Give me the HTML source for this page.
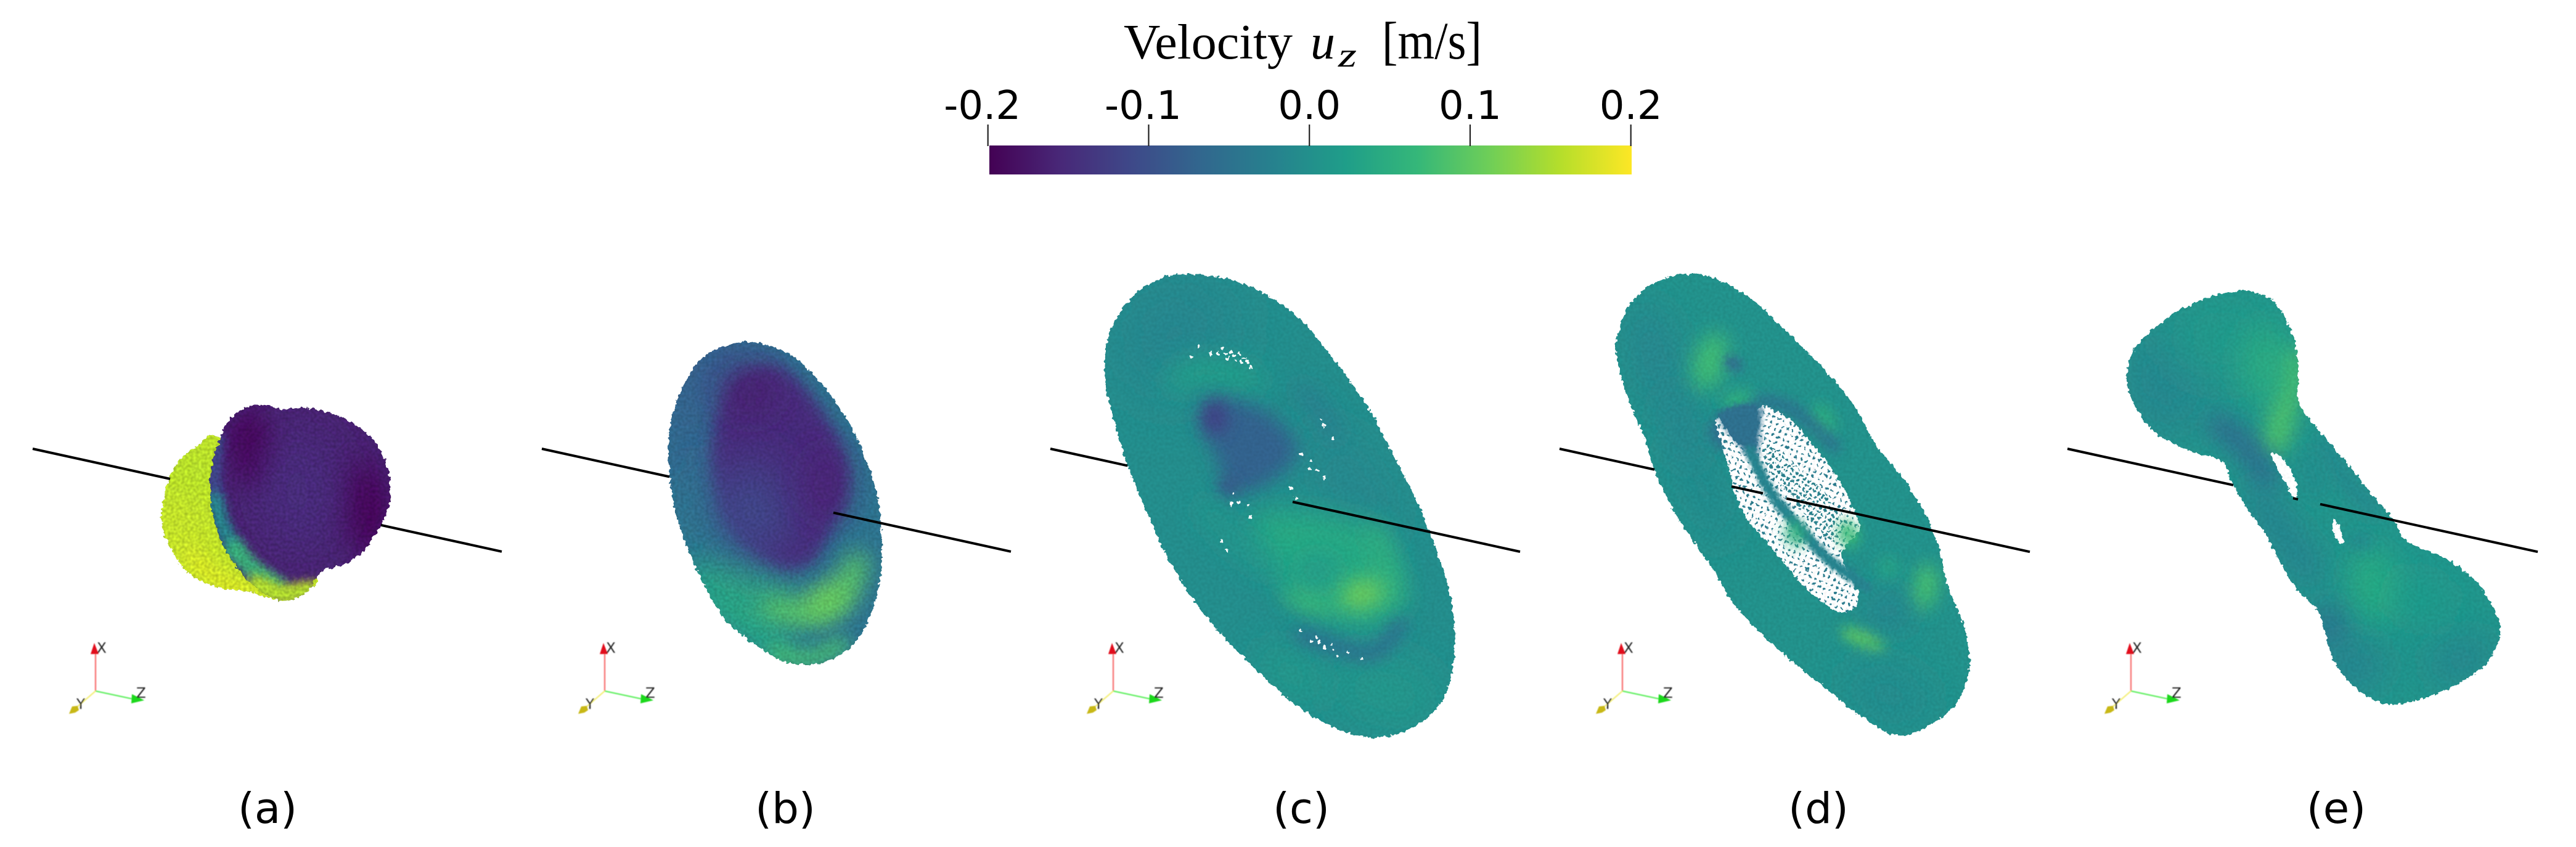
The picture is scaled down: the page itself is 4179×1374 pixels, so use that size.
<!DOCTYPE html>
<html lang="en">
<head>
<meta charset="utf-8">
<title>Velocity field panels</title>
<style>
html,body{margin:0;padding:0;background:#fff;width:4179px;height:1374px;overflow:hidden}
svg{display:block}
</style>
</head>
<body>
<svg id="figure" xmlns="http://www.w3.org/2000/svg" width="4179" height="1374" viewBox="0 0 4179 1374">
<defs id="defs">
<linearGradient id="cbGrad" x1="0" x2="1" y1="0" y2="0"></linearGradient>
<filter id="soft" x="-20%" y="-20%" width="140%" height="140%"><feGaussianBlur stdDeviation="0.9"/></filter>
<pattern id="dotsWide" width="9.5" height="9.5" patternUnits="userSpaceOnUse" patternTransform="rotate(22)"><rect width="9.5" height="9.5" fill="#fff"/><circle cx="4.75" cy="4.75" r="2.1" fill="#2a7a8c"/></pattern>
<pattern id="dotsDense" width="8" height="8" patternUnits="userSpaceOnUse" patternTransform="rotate(35)"><rect width="8" height="8" fill="#fff"/><circle cx="4" cy="4" r="2.6" fill="#2a808c"/></pattern>
</defs>
<rect width="4179" height="1374" fill="#fff"/>

<g id="colorbar-title" fill="#000" font-family="'Liberation Serif',serif" font-size="80">
<text x="1823" y="95" textLength="274" lengthAdjust="spacingAndGlyphs">Velocity</text>
<text x="2126" y="95" font-style="italic" textLength="40" lengthAdjust="spacingAndGlyphs">u</text>
<text x="2171" y="108" font-size="56" font-style="italic" textLength="30" lengthAdjust="spacingAndGlyphs">z</text>
<text x="2242" y="95" font-size="86" textLength="162" lengthAdjust="spacingAndGlyphs">[m/s]</text>
</g>
<rect id="colorbar" x="1605" y="236" width="1042" height="47" fill="url(#cbGrad)"/>
<g id="colorbar-ticks"></g>
<g id="panels"></g>
</svg>

<script>
// ---- colorbar data ----
const colorbarTicks = [-0.2, -0.1, 0.0, 0.1, 0.2];
const colorbarTickLabels = ["-0.2", "-0.1", "0.0", "0.1", "0.2"];
const viridisStops = ["#440154","#482878","#3e4989","#31688e","#26828e","#1f9e89","#35b779","#6ece58","#b5de2b","#fde725"];

// ---- panel captions ----
const panelLabels = ["(a)", "(b)", "(c)", "(d)", "(e)"];

// ---- velocity u_z read for each region of each panel, in drawing order ----
const panelAYellowVelocity = [0.162, 0.155, 0.178, 0.165];
const panelABodyVelocity = [-0.17, -0.11, -0.005, 0.07, 0.155, -0.165, -0.2, -0.2, -0.15];
const panelBVelocity = [-0.05, -0.09, -0.08, -0.035, 0.03, 0.05, 0.08, 0.095, 0.11, -0.15, -0.11, -0.165, -0.16];
const panelCVelocity = [-0.005, -0.018, 0.012, 0.028, 0.015, -0.015, -0.075, -0.125, -0.11, -0.04, 0.04, 0.06, 0.115, 0.075, 0.005, -0.06, 0.015];
const panelDVelocity = [0.002, -0.018, -0.012, 0.075, 0.06, 0.055, 0.08, 0.105, -0.025, -0.07, -0.06, -0.012, -0.045, -0.018, -0.06];
const panelDIslandVelocity = [-0.055, -0.02, 0.05, 0.07, 0.035];
const panelEVelocity = [0.006, -0.02, 0.015, 0.085, 0.045, -0.06, -0.025, -0.015, -0.005, 0.045, -0.055, 0.02, -0.025, -0.025, -0.01];

// ---- axis functions ----
const vMin = -0.2, vMax = 0.2;
function xOfTick(v){ return 1602.7 + (v - vMin) / (vMax - vMin) * 1043; }
function hex2rgb(h){ return [parseInt(h.slice(1,3),16),parseInt(h.slice(3,5),16),parseInt(h.slice(5,7),16)]; }
function viridis(u){
  let t = Math.max(0, Math.min(1, (u - vMin) / (vMax - vMin))) * (viridisStops.length - 1);
  const i = Math.min(viridisStops.length - 2, Math.floor(t));
  const f = t - i, a = hex2rgb(viridisStops[i]), b = hex2rgb(viridisStops[i+1]);
  return "rgb(" + a.map((c,k)=>Math.round(c+(b[k]-c)*f)).join(",") + ")";
}

const NS = "http://www.w3.org/2000/svg";
function mk(tag, attrs, parent){
  const el = document.createElementNS(NS, tag);
  for (const k in attrs) el.setAttribute(k, attrs[k]);
  if (parent) parent.appendChild(el);
  return el;
}
function smooth(pts, closed){
  const n = pts.length;
  const g = i => closed ? pts[(i+n)%n] : pts[Math.max(0,Math.min(n-1,i))];
  let d = "M" + pts[0][0].toFixed(1) + " " + pts[0][1].toFixed(1);
  const end = closed ? n : n-1;
  for (let i=0;i<end;i++){
    const p0=g(i-1),p1=g(i),p2=g(i+1),p3=g(i+2);
    d += "C"+(p1[0]+(p2[0]-p0[0])/6).toFixed(1)+" "+(p1[1]+(p2[1]-p0[1])/6).toFixed(1)+" "
      +(p2[0]-(p3[0]-p1[0])/6).toFixed(1)+" "+(p2[1]-(p3[1]-p1[1])/6).toFixed(1)+" "
      +p2[0].toFixed(1)+" "+p2[1].toFixed(1);
  }
  return d + (closed ? "Z" : "");
}

// geometry helpers (coordinates measured on zoomed crops, mapped by each panel's frame)
function F(pts, blur){ return {k:"fill", pts, blur:blur||0}; }
function S(pts, w, blur){ return {k:"stroke", pts, w, blur:blur||0}; }
function E(cx, cy, rx, ry, rot, blur){ return {k:"ell", cx, cy, rx, ry, rot:rot||0, blur:blur||0}; }

const outlineYellow = [[655,222],[590,250],[545,290],[510,350],[490,420],[483,485],[495,550],[530,625],[580,680],[650,715],[745,730],[790,745],[835,755],[885,750],[925,715],[945,672],[800,400]];
const outlineBody = [[660,225],[688,162],[745,120],[805,118],[845,130],[920,125],[1000,145],[1070,185],[1125,240],[1160,320],[1168,400],[1160,460],[1135,520],[1090,590],[1040,635],[965,662],[930,715],[885,750],[830,755],[750,700],[690,620],[650,530],[630,430],[635,310]];
const outlineB = [[710,122],[620,145],[570,180],[530,235],[495,310],[470,400],[460,480],[462,580],[470,680],[495,790],[530,900],[580,1020],[640,1130],[720,1210],[800,1270],[880,1295],[960,1285],[1030,1240],[1090,1150],[1130,1000],[1138,870],[1130,720],[1100,590],[1050,450],[990,340],[920,240],[850,170],[790,140]];
const outlineC = [[500,82],[430,95],[370,130],[320,180],[280,250],[262,340],[270,440],[300,560],[340,680],[390,800],[450,930],[530,1060],[620,1170],[720,1270],[830,1370],[950,1440],[1050,1468],[1150,1455],[1240,1400],[1290,1320],[1310,1200],[1300,1060],[1260,920],[1200,770],[1130,630],[1050,480],[950,340],[850,220],[740,140],[620,95]];
const outlineD = [[440,82],[370,95],[300,135],[250,200],[225,290],[235,370],[265,470],[310,570],[340,670],[380,760],[440,860],[510,960],[570,1060],[650,1150],[750,1240],[850,1320],[950,1400],[1060,1462],[1150,1440],[1240,1370],[1280,1270],[1270,1150],[1220,1020],[1190,900],[1150,800],[1080,690],[1000,590],[940,480],[850,370],[720,240],[620,150],[520,95]];
const outlineE = [[570,78],[480,92],[400,125],[340,160],[270,220],[235,270],[222,340],[245,420],[300,495],[380,545],[450,570],[510,590],[540,660],[590,740],[640,810],[680,890],[730,970],[790,1030],[815,1100],[840,1180],[890,1250],[960,1300],[1030,1315],[1130,1290],[1220,1250],[1300,1190],[1340,1100],[1320,1030],[1270,950],[1180,880],[1060,825],[1020,760],[950,680],[880,590],[810,510],[740,420],[735,340],[725,230],[680,130],[630,90]];

const geomAYellow = [F(outlineYellow), E(590,330,110,110,0,34), S([[560,600],[650,690],[750,730]],50,14), E(530,520,50,90,0,24)];
const geomABody = [
  F(outlineBody),
  S([[660,235],[645,340],[645,430]],46,7),
  S([[645,430],[665,510],[705,590]],50,8),
  S([[705,590],[755,650],[830,700]],60,9),
  S([[770,705],[850,738],[925,715]],60,8),
  F([[700,140],[850,120],[1190,190],[1210,500],[1050,650],[880,682],[800,635],[730,530],[695,400],[690,250]],8),
  E(760,270,65,130,-6,18),
  E(1090,450,70,150,-8,24),
  E(890,400,130,210,0,38)
];
const geomB = [
  F(outlineB),
  E(640,260,170,180,0,44),
  E(530,540,70,260,-4,40),
  E(570,780,90,200,-14,40),
  S([[570,980],[680,1120],[800,1230]],110,24),
  E(720,1040,150,80,30,34),
  S([[800,1250],[900,1275],[1010,1225]],50,14),
  S([[790,1085],[900,1110],[1000,1060],[1060,930]],70,18),
  E(960,1060,80,50,-35,20),
  F([[770,205],[680,250],[630,340],[600,470],[600,600],[640,760],[720,880],[830,950],[920,920],[980,800],[1020,700],[1030,580],[1000,470],[950,370],[880,270],[820,220]],13),
  E(720,740,120,180,-18,40),
  E(720,310,80,90,0,26),
  E(960,640,60,130,0,26)
];
const geomC = [
  F(outlineC),
  E(470,260,190,170,-30,50),
  E(1100,1330,180,90,15,40),
  S([[480,400],[560,370],[700,400]],70,22),
  E(820,1280,120,60,35,30),
  E(1000,720,90,200,-30,34),
  F([[590,465],[555,520],[590,620],[640,730],[720,725],[830,640],[825,570],[740,490],[650,460]],15),
  E(590,510,38,55,0,14),
  E(630,720,26,26,0,12),
  S([[850,430],[900,480],[950,560]],40,18),
  F([[700,830],[800,790],[1040,830],[1130,950],[1160,1060],[1100,1130],[950,1120],[800,1010]],22),
  S([[1070,850],[1110,950],[1120,1040]],45,18),
  E(1030,1040,70,40,-10,18),
  E(870,1060,80,24,20,16),
  E(900,970,60,40,0,24),
  S([[850,1160],[960,1200],[1070,1215],[1150,1130]],40,13),
  S([[560,780],[650,880],[760,960]],50,22)
];
const geomD = [
  F(outlineD),
  E(340,330,70,170,-15,30),
  E(480,720,60,190,-25,36),
  E(505,345,45,90,18,16),
  E(590,460,50,24,-15,12),
  E(845,520,28,50,-25,12),
  E(1150,1020,35,70,10,14),
  E(965,1175,70,22,22,10),
  E(1040,1090,70,50,0,26),
  E(575,350,30,18,30,8),
  S([[650,460],[740,480],[820,540],[880,600]],32,10),
  E(1040,1340,140,70,20,36),
  E(880,985,70,28,25,14),
  E(420,540,50,120,-18,26),
  E(570,555,65,55,0,10)
];
const geomDHole = [[655,480],[700,490],[760,530],[810,590],[860,650],[910,730],[945,810],[950,850],[900,920],[935,1000],[950,1065],[900,1095],[850,1070],[780,1010],[730,950],[680,890],[620,820],[580,740],[565,670],[540,590],[525,510],[590,590],[640,570]];
const geomDInnerDots = [[665,590],[740,640],[830,720],[900,820],[880,890],[790,800],[720,720],[680,660]];
const geomDIsland = [
  F([[530,500],[650,470],[655,560],[640,640],[590,590]],4),
  S([[625,610],[690,740],[790,860],[870,945],[975,1020]],32,3),
  E(760,860,28,42,-20,10),
  E(920,860,30,42,-15,10),
  E(1040,960,30,30,0,12)
];
const geomE = [
  F(outlineE),
  E(340,340,130,170,0,44),
  E(510,220,170,110,0,40),
  S([[715,290],[700,400],[665,530]],75,16),
  E(640,300,70,120,0,26),
  S([[500,480],[590,555],[640,640]],70,18),
  S([[620,700],[700,820],[770,920]],90,26),
  S([[810,540],[880,650],[960,730]],50,14),
  E(780,630,40,80,-15,14),
  E(965,960,70,110,-10,24),
  E(830,1085,45,75,-15,22),
  E(1100,1000,120,50,20,36),
  E(900,1200,90,70,0,30),
  E(1220,1180,100,50,-20,30),
  E(920,825,40,24,0,10)
];
const holesE = [
  [[655,570],[685,575],[725,640],[732,690],[720,695],[690,640]],
  [[845,760],[872,825],[855,827],[835,785]]
];
const specksC = [[615,305],[625,320],[640,315],[650,325],[665,320],[680,335],[690,345],[670,345],[600,320],[580,320],[700,360],[545,300],[520,330],[910,518],[920,535],[945,575],[850,620],[880,640],[900,670],[920,690],[875,665],[650,740],[665,765],[690,775],[640,770],[700,810],[610,880],[628,910],[850,1150],[880,1180],[905,1185],[940,1190],[960,1225],[920,1200],[1030,1235],[990,1215],[835,750],[820,725],[630,335],[655,340],[895,1170],[950,1205]];

const frames = [
  {ox:0,   oy:600, sx:1.845, sy:2.026},
  {ox:850, oy:500, sx:1.96,  sy:2.24},
  {ox:1650,oy:400, sx:1.845, sy:1.845},
  {ox:2500,oy:400, sx:1.845, sy:1.845},
  {ox:3330,oy:430, sx:1.845, sy:1.845}
];
const panelBox = [[240,450,420,560],[1060,440,500,660],[1770,420,620,800],[2600,420,620,800],[3430,450,640,700]];
// speckle strength per panel: [multiplicative noise gain, constant gain]
const speckleGain = [[0.45,0.78],[0.3,0.85],[0.14,0.93],[0.16,0.92],[0.14,0.93]];
const lineStartX = [53, 879, 1704, 2530, 3354];
const labelX = [434, 1274, 2111, 2950, 3790];
const lineGaps = [
  [[53,276],[618,814]],
  [[879,1086],[1352,1640]],
  [[1704,1829],[2097,2466]],
  [[2530,2684],[2809,2860],[2898,3293]],
  [[3354,3623],[3720,3728],[3764,4117]]
];

const defs = document.getElementById("defs");
const panelsRoot = document.getElementById("panels");

// colorbar gradient
const cbGrad = document.getElementById("cbGrad");
viridisStops.forEach((c,i)=>{ mk("stop",{offset:i/(viridisStops.length-1),"stop-color":c},cbGrad); });

// colorbar ticks
const tickRoot = document.getElementById("colorbar-ticks");
colorbarTicks.forEach((v,i)=>{
  const ln = mk("line",{x1:xOfTick(v),x2:xOfTick(v),y1:202,y2:237,stroke:"#222","stroke-width":2.2},tickRoot);
  
  
  const tx = mk("text",{x:xOfTick(v)+(v<0?-9:0),y:193,"text-anchor":"middle","font-family":"'DejaVu Sans',sans-serif","font-size":64,fill:"#000"},tickRoot);
  tx.textContent = colorbarTickLabels[i];
  
  
});

// blur filters
const blurCache = {};
function blurId(b){
  if (!b) return null;
  if (!blurCache[b]){
    const f = mk("filter",{id:"b"+b,filterUnits:"userSpaceOnUse",x:0,y:0,width:4179,height:1374},defs);
    mk("feGaussianBlur",{stdDeviation:b},f);
    blurCache[b] = "b"+b;
  }
  return blurCache[b];
}
function drawShape(s, u, fr, parent){
  const X = p => [fr.ox + p[0]/fr.sx, fr.oy + p[1]/fr.sy];
  const color = viridis(u);
  let el;
  if (s.k === "fill"){
    el = mk("path",{d:smooth(s.pts.map(X),true),fill:color},parent);
  } else if (s.k === "stroke"){
    el = mk("path",{d:smooth(s.pts.map(X),false),fill:"none",stroke:color,"stroke-width":s.w/fr.sx,"stroke-linecap":"round"},parent);
  } else {
    const c = X([s.cx,s.cy]);
    el = mk("ellipse",{cx:c[0],cy:c[1],rx:s.rx/fr.sx,ry:s.ry/fr.sy,fill:color,transform:"rotate("+s.rot+" "+c[0]+" "+c[1]+")"},parent);
  }
  const id = blurId(s.blur);
  if (id) el.setAttribute("filter","url(#"+id+")");
  
  
  return el;
}

function roughFilter(i, seed, freq, scale){
  const b = panelBox[i];
  const f = mk("filter",{id:"rough"+seed,filterUnits:"userSpaceOnUse",x:b[0]-30,y:b[1]-30,width:b[2]+60,height:b[3]+60,"color-interpolation-filters":"sRGB"},defs);
  mk("feTurbulence",{type:"fractalNoise",baseFrequency:freq,numOctaves:2,seed:seed,result:"n"},f);
  mk("feDisplacementMap",{in:"SourceGraphic",in2:"n",scale:scale,xChannelSelector:"R",yChannelSelector:"G",result:"d"},f);
  mk("feTurbulence",{type:"fractalNoise",baseFrequency:0.22,numOctaves:1,seed:seed+3,result:"n2"},f);
  mk("feColorMatrix",{in:"n2",type:"matrix",values:"1 0 0 0 0 1 0 0 0 0 1 0 0 0 0 0 0 0 0 1",result:"g"},f);
  mk("feComposite",{in:"d",in2:"g",operator:"arithmetic",k1:speckleGain[i][0],k2:speckleGain[i][1],k3:0,k4:0},f);
  return "rough"+seed;
}

function bodyLayer(i, panel, seed, outline, geom, vel, extra){
  const fr = frames[i];
  const rid = roughFilter(i, seed, 0.16, 9);
  const g = mk("g",{filter:"url(#"+rid+")"},panel);
  
  
  const clipId = "clip"+seed;
  const cp = mk("clipPath",{id:clipId},defs);
  mk("path",{d:smooth(outline.map(p=>[fr.ox+p[0]/fr.sx,fr.oy+p[1]/fr.sy]),true)},cp);
  const inner = mk("g",{"clip-path":"url(#"+clipId+")"},g);
  geom.forEach((s,k)=>{ drawShape(s, vel[k], fr, inner); });
  if (extra) extra(inner, fr);
}

function panelLine(i, panel){
  const x0 = lineStartX[i];
  const yOf = x => 728 + (x - x0) * (167 / 762);
  lineGaps[i].forEach(seg=>{
    const ln = mk("line",{x1:seg[0],x2:seg[1],y1:yOf(seg[0]),y2:yOf(seg[1]),stroke:"#000","stroke-width":4},panel);
    
    
  });
}

function triad(i, panel){
  const dx = [0,826,1651,2477,3302][i];
  const g = mk("g",{transform:"translate("+dx+" 0)",filter:"url(#soft)"},panel);
  
  
  mk("line",{x1:155,y1:1121,x2:155,y2:1060,stroke:"#f87878","stroke-width":2.4},g);
  mk("polygon",{points:"153,1043 147,1061 160,1061",fill:"#e2101e"},g);
  mk("line",{x1:155,y1:1121,x2:216,y2:1134,stroke:"#66f066","stroke-width":2.4},g);
  mk("polygon",{points:"234,1136 214,1126 213,1141",fill:"#1ed81e"},g);
  mk("line",{x1:155,y1:1121,x2:126,y2:1146,stroke:"#f4f080","stroke-width":2.4},g);
  mk("polygon",{points:"112,1158 117,1146 126,1145 128,1152 122,1156",fill:"#c8b812"},g);
  [["X",157,1059],["Z",221,1132],["Y",124,1150]].forEach(t=>{
    const tx = mk("text",{x:t[1],y:t[2],"font-family":"'DejaVu Sans',sans-serif","font-size":23,fill:"#222"},g);
    tx.textContent = t[0];
    
    
  });
}

panelLabels.forEach((lab,i)=>{
  const panel = mk("g",{},panelsRoot);
  
  
  if (i === 0){
    bodyLayer(0,panel,11,outlineYellow,geomAYellow,panelAYellowVelocity);
    bodyLayer(0,panel,12,outlineBody,geomABody,panelABodyVelocity);
  } else if (i === 1){
    bodyLayer(1,panel,21,outlineB,geomB,panelBVelocity);
  } else if (i === 2){
    bodyLayer(2,panel,31,outlineC,geomC,panelCVelocity,(inner,fr)=>{
      specksC.forEach(p=>{
        const c = mk("circle",{cx:fr.ox+p[0]/fr.sx,cy:fr.oy+p[1]/fr.sy,r:2.4,fill:"#fff"},inner);
        
        
      });
    });
  } else if (i === 3){
    bodyLayer(3,panel,41,outlineD,geomD,panelDVelocity,(inner,fr)=>{
      const Xd = p=>[fr.ox+p[0]/fr.sx,fr.oy+p[1]/fr.sy];
      const hole = mk("path",{d:smooth(geomDHole.map(Xd),true),fill:"url(#dotsWide)"},inner);
      
      
      const dense = mk("path",{d:smooth(geomDInnerDots.map(Xd),true),fill:"url(#dotsDense)"},inner);
      
      
      geomDIsland.forEach((s,k)=>{ drawShape(s,panelDIslandVelocity[k],fr,inner); });
    });
  } else {
    bodyLayer(4,panel,51,outlineE,geomE,panelEVelocity,(inner,fr)=>{
      holesE.forEach(h=>{
        const p = mk("path",{d:smooth(h.map(q=>[fr.ox+q[0]/fr.sx,fr.oy+q[1]/fr.sy]),true),fill:"#fff"},inner);
        
        
      });
    });
  }
  panelLine(i,panel);
  triad(i,panel);
  const t = mk("text",{x:labelX[i],y:1335,"text-anchor":"middle","font-family":"'DejaVu Sans',sans-serif","font-size":69,fill:"#000"},panel);
  t.textContent = lab;
  
  
});
</script>
</body>
</html>
